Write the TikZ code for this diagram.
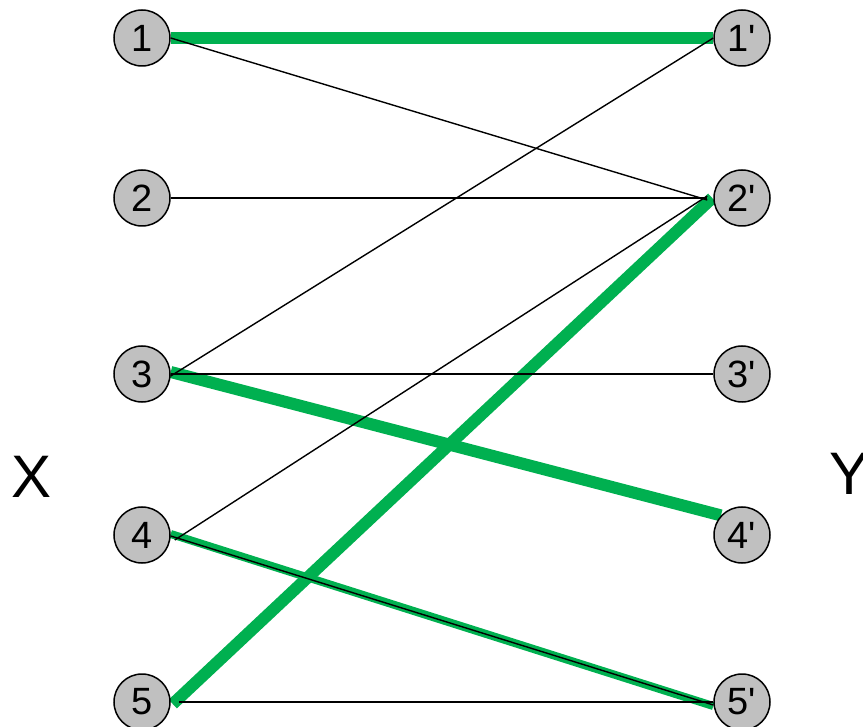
\documentclass[tikz,border=0pt]{standalone}
\usepackage{fontspec}
\setmainfont{Liberation Sans}[Ligatures=TeXOff]
\usetikzlibrary{backgrounds}
\definecolor{mgreen}{HTML}{00B050}
\definecolor{vgray}{HTML}{C0C0C0}
\tikzset{
  vtx/.style={circle,draw=black,line width=1.5pt,fill=vgray,minimum size=56pt,inner sep=0pt,font=\fontsize{38}{38}\selectfont},
  side/.style={font=\fontsize{60}{60}\selectfont,inner sep=0pt},
  thin edge/.style={draw=black,line width=1.4pt},
  match/.style={draw=mgreen,line width=12pt},
  match2/.style={draw=mgreen,line width=8pt}
}
\begin{document}
\begin{tikzpicture}[x=1pt,y=-1pt]
\useasboundingbox (0,0) rectangle (863,727);
\node[vtx] (a1) at (142,38) {1};
\node[vtx] (a2) at (142,198) {2};
\node[vtx] (a3) at (142,374) {3};
\node[vtx] (a4) at (142,535) {4};
\node[vtx] (a5) at (142,702) {5};
\node[vtx] (b1) at (742,38) {1'};
\node[vtx] (b2) at (742,198) {2'};
\node[vtx] (b3) at (742,374) {3'};
\node[vtx] (b4) at (742,535) {4'};
\node[vtx] (b5) at (742,702) {5'};
\node[side] (X) at (32,477) {X};
\node[side] (Y) at (850,474) {Y};
\begin{scope}[on background layer]
  \draw[match] (a1.east) -- (b1.west);
  \draw[match] ([yshift=2pt]a3.east) -- (b4.137);
  \draw[match] ([xshift=2pt,yshift=-2pt]a5.east) -- ([xshift=-1pt]b2.west);
  \draw[match2] ([yshift=1pt]a4.east) -- ([yshift=-4pt]b5.west);
  \draw[thin edge] (a1.east) -- ([xshift=-6pt,yshift=-2pt]b2.west);
  \draw[thin edge] (a2.east) -- ([xshift=-6pt]b2.west);
  \draw[thin edge] ([yshift=-2pt]a3.east) -- (b1.west);
  \draw[thin edge] (a3.east) -- (b3.west);
  \draw[thin edge] ([xshift=4pt,yshift=-5pt]a4.east) -- ([xshift=-6pt,yshift=2pt]b2.west);
  \draw[thin edge] ([yshift=-1pt]a4.east) -- ([yshift=-3pt]b5.west);
  \draw[thin edge] ([xshift=8pt]a5.east) -- (b5.west);
\end{scope}
\end{tikzpicture}
\end{document}
